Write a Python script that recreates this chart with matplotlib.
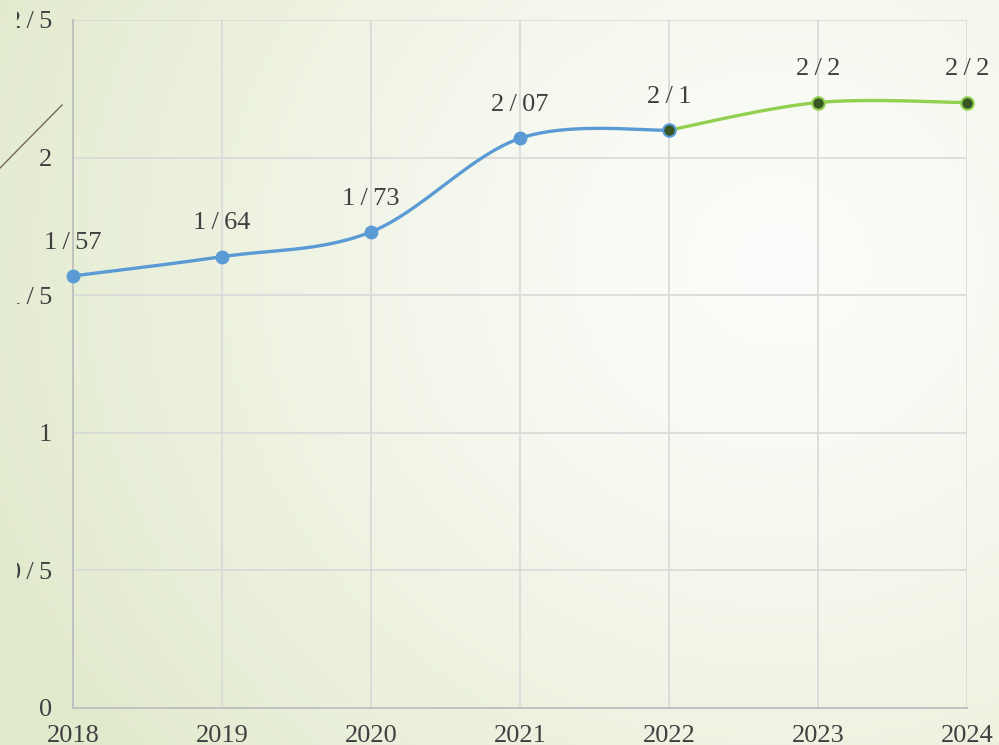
import numpy as np
import matplotlib
matplotlib.use("Agg")
import matplotlib.pyplot as plt
from matplotlib.transforms import Bbox, TransformedBbox

years = [2018, 2019, 2020, 2021, 2022, 2023, 2024]
blue_years = [2018, 2019, 2020, 2021, 2022]
blue_vals = [1.57, 1.64, 1.73, 2.07, 2.10]
green_years = [2022, 2023, 2024]
green_vals = [2.10, 2.20, 2.20]
ts = '\u2009'
point_labels = ["1/57", "1/64", "1/73", "2/07", "2/1", "2/2", "2/2"]
yticks = [0, 0.5, 1, 1.5, 2, 2.5]
ytick_labels = ["0", "0/5", "1", "1/5", "2", "2/5"]

W, H = 999, 745
plt.rcParams['font.family'] = ['Liberation Serif', 'DejaVu Serif']

fig = plt.figure(figsize=(W / 100, H / 100), dpi=100)

# background gradient
bg = fig.add_axes([0, 0, 1, 1])
gx, gy = np.meshgrid(np.linspace(0, 1, 300), np.linspace(0, 1, 220))
d = np.sqrt(((gx - 0.78) * 1.0) ** 2 + ((gy - 0.35) * 0.8) ** 2)
t = np.clip(d / 0.85, 0, 1) ** 1.3
c0 = np.array([252, 253, 250]) / 255
c1 = np.array([226, 234, 205]) / 255
img = c0 + (c1 - c0) * t[..., None]
bg.imshow(img, extent=[0, 1, 0, 1], aspect='auto', origin='upper')
bg.axis('off')
bg.plot([0, 62 / W], [1 - 168 / H, 1 - 105 / H], color='#756a55', lw=1.0)
bg.set_xlim(0, 1)
bg.set_ylim(0, 1)

ax = fig.add_axes([73 / W, 37 / H, 894 / W, 688 / H])
ax.patch.set_alpha(0)

def smooth(xs, ys, sx=149.0, sy=275.0, n=60):
    P = np.column_stack([np.array(xs) * sx, np.array(ys) * sy])
    P = np.vstack([P[0], P, P[-1]])
    out = []
    for i in range(1, len(P) - 2):
        p0, p1, p2, p3 = P[i - 1], P[i], P[i + 1], P[i + 2]
        c1 = p1 + (p2 - p0) / 6
        c2 = p2 - (p3 - p1) / 6
        tt = np.linspace(0, 1, n)[:, None]
        b = ((1 - tt) ** 3) * p1 + 3 * ((1 - tt) ** 2) * tt * c1 + 3 * (1 - tt) * tt ** 2 * c2 + tt ** 3 * p2
        out.append(b)
    out = np.vstack(out)
    return out[:, 0] / sx, out[:, 1] / sy

bx, by = smooth(blue_years, blue_vals)
gx2, gy2 = smooth(green_years, green_vals)
ax.plot(bx, by, color='#5b9bd5', lw=2.4, zorder=3, solid_capstyle='round', clip_on=False)
ax.plot(gx2, gy2, color='#92d050', lw=2.4, zorder=3, solid_capstyle='round', clip_on=False)
ax.plot(blue_years[:-1], blue_vals[:-1], 'o', color='#5b9bd5', ms=9, zorder=4, clip_on=False)
ax.plot(blue_years[-1], blue_vals[-1], 'o', mfc='#375623', mec='#5b9bd5', mew=1.5, ms=9, zorder=4, clip_on=False)
ax.plot(green_years[1:], green_vals[1:], 'o', mfc='#375623', mec='#92d050', mew=1.5, ms=9, zorder=4, clip_on=False)

all_vals = blue_vals + green_vals[1:]
for x, v, s in zip(years, all_vals, point_labels):
    ax.annotate(s.replace('/', ts + '/' + ts), (x, v), xytext=(0, 24), textcoords='offset points',
                ha='center', va='center', fontsize=19, color='#404040', zorder=5)

ax.set_xlim(2018, 2024)
ax.set_ylim(0, 2.5)
ax.set_xticks(years)
ax.set_xticklabels([str(y) for y in years])
ax.set_yticks(yticks)
ax.set_yticklabels([s.replace('/', ts + '/' + ts) for s in ytick_labels])
ax.grid(True, color='#d9d9d9', lw=1.2)
ax.set_axisbelow(True)
for s in ['top', 'right']:
    ax.spines[s].set_visible(False)
for s in ['left', 'bottom']:
    ax.spines[s].set_color('#bfbfbf')
    ax.spines[s].set_linewidth(1.3)
ax.tick_params(length=0, labelsize=19, labelcolor='#404040')
ax.tick_params(axis='y', pad=15)
ax.tick_params(axis='x', pad=12)

clip = TransformedBbox(Bbox([[17 / W, 0], [1, 1]]), fig.transFigure)
for lab in ax.get_yticklabels():
    lab.set_clip_on(True)
    lab.set_clip_box(clip)

fig.savefig('out.png', dpi=100)
